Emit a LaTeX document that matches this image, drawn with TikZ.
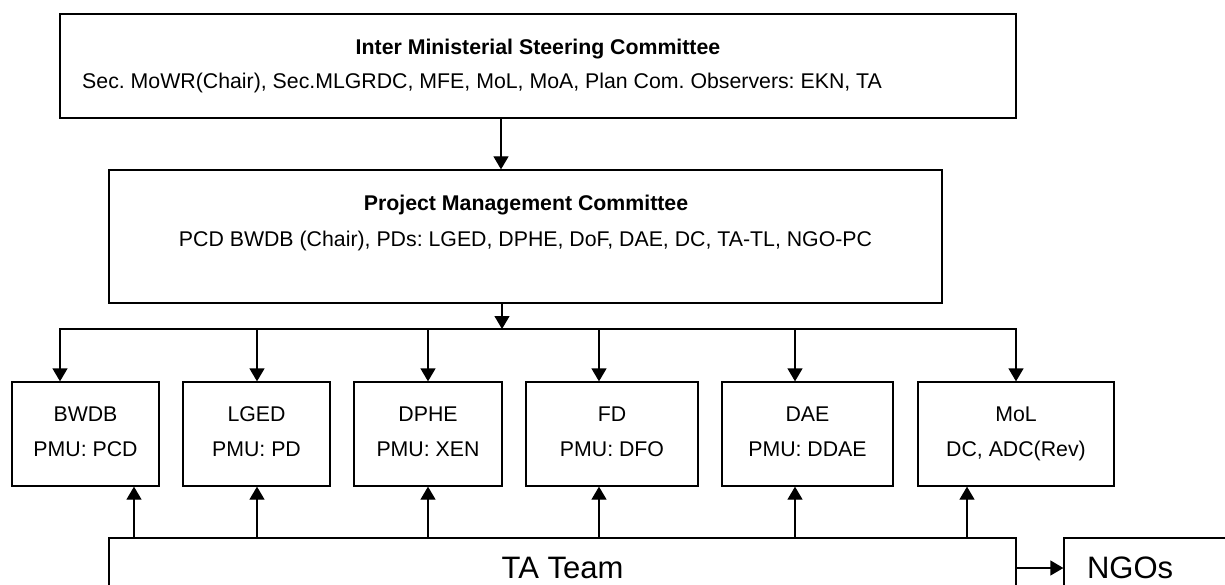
\documentclass[tikz,border=0pt]{standalone}
\usepackage{fontspec}
\setmainfont{Liberation Sans}
\usetikzlibrary{arrows.meta,calc}
\frenchspacing

\begin{document}
\begin{tikzpicture}[
    x=1pt, y=-1pt, % one unit = one pixel of the layout, y going down
    box/.style={rectangle, draw, line width=1.3pt, inner sep=0pt, align=center, font=\fontsize{21.3}{35}\selectfont},
    unit/.style={box, minimum height=104pt, execute at end node=\vphantom{()}},
    title/.style={inner sep=0pt, font=\fontsize{21.3}{25}\selectfont\bfseries},
    txt/.style={inner sep=0pt, font=\fontsize{21.3}{25}\selectfont},
    big/.style={font=\fontsize{31}{36}\selectfont},
    connector/.style={-{Triangle[width=15pt,length=13pt]}, line width=1.3pt}
]
    \useasboundingbox (0,0) rectangle (1225,585);
    \clip (0,0) rectangle (1225,585);

    % Committees
    \node[box, minimum width=956pt, minimum height=104pt] (isc) at (538,66) {};
    \node[title, anchor=base] (isctitle) at (538,55) {Inter Ministerial Steering Committee};
    \node[txt, anchor=base west] (iscmembers) at (82,89) {Sec. MoWR(Chair), Sec.MLGRDC, MFE, MoL, MoA, Plan Com. Observers: EKN, TA};

    \node[box, minimum width=833pt, minimum height=133pt] (pmc) at (525.5,236.5) {};
    \node[title, anchor=base] (pmctitle) at (526,211) {Project Management Committee};
    \node[txt, anchor=base] (pmcmembers) at (525.5,247) {PCD BWDB (Chair), PDs: LGED, DPHE, DoF, DAE, DC, TA-TL, NGO-PC};

    % Agencies
    \node[unit, minimum width=147pt] (bwdb) at (85.5,434) {BWDB\\PMU: PCD};
    \node[unit, minimum width=147pt] (lged) at (256.5,434) {LGED\\PMU: PD};
    \node[unit, minimum width=148pt] (dphe) at (428,434) {DPHE\\PMU: XEN};
    \node[unit, minimum width=172pt] (fd) at (612,434) {FD\\PMU: DFO};
    \node[unit, minimum width=171pt] (dae) at (807.5,434) {DAE\\PMU: DDAE};
    \node[unit, minimum width=196pt] (mol) at (1016,434) {MoL\\DC, ADC(Rev)};

    % TA team and NGOs
    \node[box, big, minimum width=907pt, minimum height=60pt] (ta) at (562.5,568) {TA Team};
    \node[box, big, minimum width=176pt, minimum height=60pt, text width=130pt, inner xsep=23pt, align=left] (ngo) at (1152,568) {NGOs};

    % Tap points
    \coordinate (iscout) at (501,118);
    \coordinate (pmcout) at (502,303);
    \coordinate (d1) at (60,329);
    \coordinate (d2) at (257,329);
    \coordinate (d3) at (428,329);
    \coordinate (d4) at (599,329);
    \coordinate (d5) at (795,329);
    \coordinate (d6) at (1016,329);
    \coordinate (u1) at (134,538);
    \coordinate (u2) at (257,538);
    \coordinate (u3) at (428,538);
    \coordinate (u4) at (599,538);
    \coordinate (u5) at (795,538);
    \coordinate (u6) at (967,538);

    % Connections
    \draw[connector] (iscout) -- (iscout |- pmc.north);
    \draw[connector] (pmcout) -- (pmcout |- d1);
    \draw[connector] (d3) -- (d1) -- (d1 |- bwdb.north);
    \draw[connector] (d3) -- (d6) -- (d6 |- mol.north);
    \draw[connector] (d2) -- (d2 |- lged.north);
    \draw[connector] (d3) -- (d3 |- dphe.north);
    \draw[connector] (d4) -- (d4 |- fd.north);
    \draw[connector] (d5) -- (d5 |- dae.north);

    \draw[connector] (u1) -- (u1 |- bwdb.south);
    \draw[connector] (u2) -- (u2 |- lged.south);
    \draw[connector] (u3) -- (u3 |- dphe.south);
    \draw[connector] (u4) -- (u4 |- fd.south);
    \draw[connector] (u5) -- (u5 |- dae.south);
    \draw[connector] (u6) -- (u6 |- mol.south);

    \draw[connector] (ta.east) -- (ngo.west);
\end{tikzpicture}
\end{document}
